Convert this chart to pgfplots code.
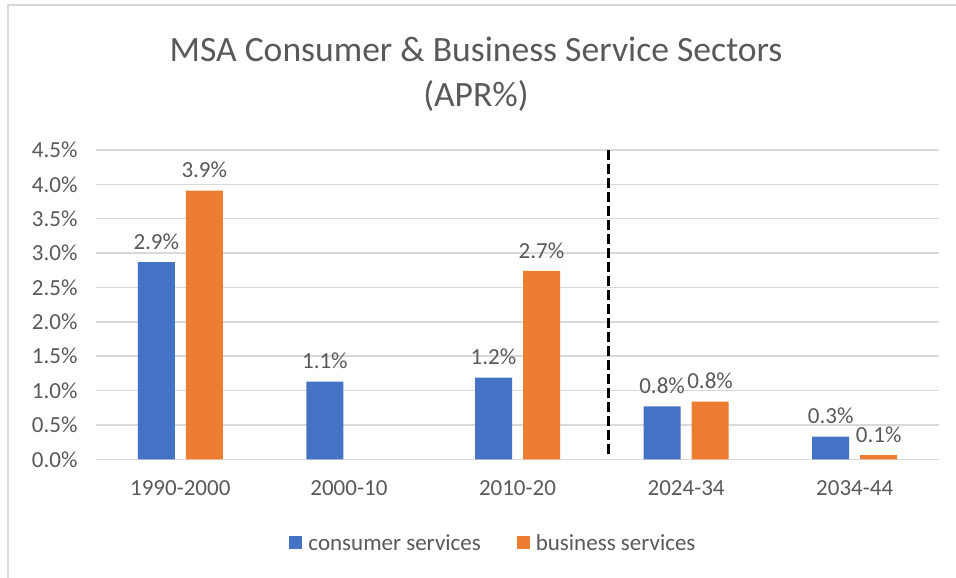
\documentclass[border=0pt]{standalone}
\usepackage{pgfplots}
\pgfplotsset{compat=1.18}
\usepackage{fontspec}
\setmainfont{Carlito}
\definecolor{cblue}{HTML}{4472C4}
\definecolor{corange}{HTML}{ED7D31}
\definecolor{txt}{HTML}{595959}
\definecolor{gridc}{HTML}{D9D9D9}
\begin{document}
\begin{tikzpicture}[x=1pt,y=1pt]
\useasboundingbox (0,0) rectangle (956,578);
\draw[draw=gridc, line width=2pt] (8,0) -- (8,573) -- (956,573);
\node[anchor=base, text=txt, font=\fontsize{35.6}{40}\selectfont] at (476,516) {MSA Consumer \& Business Service Sectors};
\node[anchor=base, text=txt, font=\fontsize{35.6}{40}\selectfont] at (476,471) {(APR\%)};
\begin{axis}[
  at={(96pt,118.7pt)}, anchor=south west,
  scale only axis, width=843pt, height=309.3pt,
  xmin=-0.5, xmax=4.5, ymin=0, ymax=4.5,
  ybar=11pt, bar width=37pt,
  xtick={0,1,2,3,4},
  xticklabels={1990-2000,2000-10,2010-20,2024-34,2034-44},
  ytick={0,0.5,...,4.5},
  yticklabel={\pgfmathprintnumber[fixed,fixed zerofill,precision=1]{\tick}\%},
  /pgf/number format/assume math mode=true,
  axis x line*=bottom, axis y line*=left,
  x axis line style={draw=gridc, line width=1.5pt, -},
  y axis line style={draw=none},
  xmajorgrids=false, ymajorgrids=true,
  grid style={draw=gridc, line width=1.5pt},
  major tick length=0pt,
  tick style={draw=none},
  tick label style={text=txt, font=\fontsize{23}{27}\selectfont},
  xticklabel style={yshift=-18pt},
  yticklabel style={xshift=-15pt},
  nodes near coords={\pgfmathprintnumber[fixed,fixed zerofill,precision=1]{\pgfplotspointmeta}\%},
  every node near coord/.append style={text=txt, font=\fontsize{23}{27}\selectfont, yshift=9pt},
  legend columns=2,
  legend style={at={(0.4715,-0.2706)}, anchor=center, draw=none, fill=none,
    font=\fontsize{23}{27}\selectfont, text=txt, inner sep=0pt,
    /tikz/every odd column/.append style={column sep=4pt},
    /tikz/every even column/.append style={column sep=34pt}},
  legend image code/.code={\fill[#1] (0pt,-6.5pt) rectangle (13pt,6.5pt);},
  clip=false,
]
\addplot[fill=cblue, draw=none] coordinates {(0,2.87) (1,1.13) (2,1.19) (3,0.77) (4,0.33)};
\addplot[fill=corange, draw=none] coordinates {(0,3.91) (2,2.74) (3,0.84) (4,0.06)};
\legend{consumer services, business services}
\addplot[forget plot, sharp plot, black, line width=3pt, dash pattern=on 10pt off 4pt, nodes near coords={}, mark=none] coordinates {(2.54,0.07) (2.54,4.5)};
\end{axis}
\end{tikzpicture}
\end{document}
